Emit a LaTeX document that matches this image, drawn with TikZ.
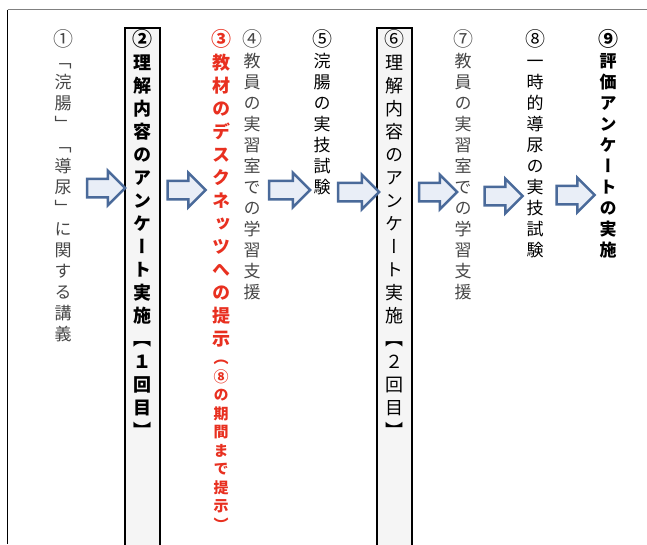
\documentclass[tikz,border=0pt]{standalone}
\usepackage{fontspec}
\usetikzlibrary{shapes.arrows,positioning}
\newfontfamily\gothic[RawFeature=+vert]{Noto Sans CJK JP}
\definecolor{arrowline}{RGB}{74,106,154}
\definecolor{arrowfill}{RGB}{233,238,247}
\definecolor{boxfill}{RGB}{245,245,245}
\definecolor{grayink}{RGB}{70,70,70}
\definecolor{redink}{RGB}{232,48,32}
\newcommand\mk[1]{{\fontsize{20}{20}\selectfont#1}}
\tikzset{
  tate/.style={anchor=north,inner sep=0pt,align=center,font=\gothic\fontsize{17}{21}\selectfont},
  tatebf/.style={tate,font=\gothic\bfseries\fontsize{18}{23}\selectfont},
  tatesmall/.style={tate,font=\gothic\bfseries\fontsize{15}{18.5}\selectfont},
  stepbox/.style={draw=black,line width=2pt,fill=boxfill,minimum width=35pt,minimum height=540pt,anchor=north,inner sep=0pt},
  blkarrow/.style={single arrow,draw=arrowline,fill=arrowfill,line width=2.5pt,minimum height=38pt,inner xsep=0pt,inner ysep=8pt,single arrow head extend=8pt}
}
\begin{document}
\begin{tikzpicture}[x=1pt,y=-1pt]
  \useasboundingbox (0,0) rectangle (647,544);
  % frame
  \coordinate (tl) at (7.5,9.5);
  \coordinate (tr) at (647,9.5);
  \coordinate (bl) at (7.5,544);
  \draw[gray,line width=1.5pt] (tl) -- (tr);
  \draw[black,line width=1.2pt] (tl) -- (bl);
  % boxes
  \node[stepbox] (box2) at (142.5,27) {};
  \node[stepbox] (box6) at (394.5,27) {};
  % columns
  \node[tate,grayink] (c1) at (63,29) {\mk{①}\\「\\浣\\腸\\」\\「\\導\\尿\\」\\に\\関\\す\\る\\講\\義};
  \node[tatebf] (c2) at (142.5,29) {\mk{②}\\理\\解\\内\\容\\の\\ア\\ン\\ケ\\ー\\ト\\実\\施\\【\\１\\回\\目\\】};
  \node[tatebf,redink] (c3) at (221,29) {\mk{③}\\教\\材\\の\\デ\\ス\\ク\\ネ\\ッ\\ツ\\へ\\の\\提\\示};
  \node[tatesmall,redink,below=13pt of c3] (c3b) {（\\⑧\\の\\期\\間\\ま\\で\\提\\示\\）};
  \node[tate,grayink] (c4) at (252,29) {\mk{④}\\教\\員\\の\\実\\習\\室\\で\\の\\学\\習\\支\\援};
  \node[tate] (c5) at (322,29) {\mk{⑤}\\浣\\腸\\の\\実\\技\\試\\験};
  \node[tate,font=\gothic\fontsize{18}{23}\selectfont] (c6) at (394.5,29) {\mk{⑥}\\理\\解\\内\\容\\の\\ア\\ン\\ケ\\ー\\ト\\実\\施\\【\\２\\回\\目\\】};
  \node[tate,grayink] (c7) at (463,29) {\mk{⑦}\\教\\員\\の\\実\\習\\室\\で\\の\\学\\習\\支\\援};
  \node[tate] (c8) at (535,29) {\mk{⑧}\\一\\時\\的\\導\\尿\\の\\実\\技\\試\\験};
  \node[tatebf,font=\gothic\bfseries\fontsize{17}{21}\selectfont] (c9) at (608,29) {\mk{⑨}\\評\\価\\ア\\ン\\ケ\\ー\\ト\\の\\実\\施};
  % arrows
  \node[blkarrow] (a1) at (101.5,188) {};
  \node[blkarrow] (a2) at (182,190) {};
  \node[blkarrow,minimum height=41pt] (a3) at (285,190) {};
  \node[blkarrow,minimum height=41pt] (a4) at (354,192) {};
  \node[blkarrow] (a5) at (433.5,192) {};
  \node[blkarrow] (a6) at (499,196) {};
  \node[blkarrow] (a7) at (571,195) {};
\end{tikzpicture}
\end{document}
